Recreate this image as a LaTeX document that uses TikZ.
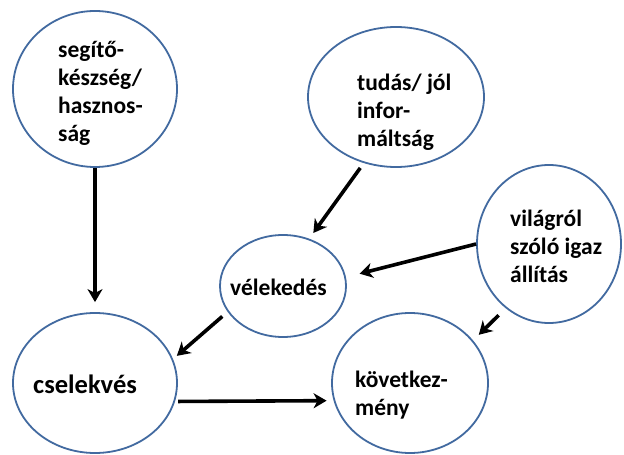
\documentclass[tikz,border=0pt]{standalone}
\usepackage{fontspec}
\setmainfont{Carlito}
\usetikzlibrary{shapes.geometric,arrows.meta}
\definecolor{ringblue}{RGB}{66,106,160}
\tikzset{
  ring/.style={draw=ringblue,line width=1.8bp,ellipse,inner sep=0pt,fill=white},
  lbl/.style={anchor=west,align=left,inner sep=0pt,font=\bfseries\fontsize{23.5bp}{28bp}\selectfont},
  conn/.style={line width=3.6bp,draw=black,-{Stealth[length=13bp,width=15bp,inset=4bp]}}
}
\begin{document}
\begin{tikzpicture}[x=1bp,y=-1bp]
\useasboundingbox (0,0) rectangle (624,455);
\fill[white] (0,0) rectangle (624,455);
% circles
\node[ring,minimum width=164bp,minimum height=156bp] (seg) at (95,89) {};
\node[ring,minimum width=176bp,minimum height=140bp] (tud) at (396,97) {};
\node[ring,minimum width=144bp,minimum height=158bp] (vil) at (549,244) {};
\node[ring,minimum width=126bp,minimum height=102bp] (vel) at (283,286) {};
\node[ring,minimum width=164bp,minimum height=140bp] (csel) at (95,383) {};
\node[ring,minimum width=156bp,minimum height=140bp] (kov) at (410,383) {};
% labels
\node[lbl] (tseg) at (58,93) {segítő-\\készség/\\hasznos-\\ság};
\node[lbl] (ttud) at (357,112) {tudás/ jól\\infor-\\máltság};
\node[lbl] (tvil) at (510,246) {világról\\szóló igaz\\állítás};
\node[lbl] (tvel) at (230,287) {vélekedés};
\node[lbl,font=\bfseries\fontsize{26.5bp}{30bp}\selectfont] (tcsel) at (33,384) {cselekvés};
\node[lbl] (tkov) at (355,395) {következ-\\mény};
% connectors
\draw[conn,shorten >=10bp] (seg.south) -- (csel.north);
\draw[conn,shorten <=6bp,shorten >=7bp] (tud.244) -- (vel.61);
\draw[conn,shorten >=14bp] (vil.west) -- (vel.8);
\draw[conn,shorten <=7bp,shorten >=5bp] (vel.205) -- (csel.17);
\draw[conn,shorten <=10bp,shorten >=8bp] (vil.236) -- (kov.34);
\draw[conn,shorten <=3bp,shorten >=7bp] (csel.347) -- (kov.193);
\end{tikzpicture}
\end{document}
